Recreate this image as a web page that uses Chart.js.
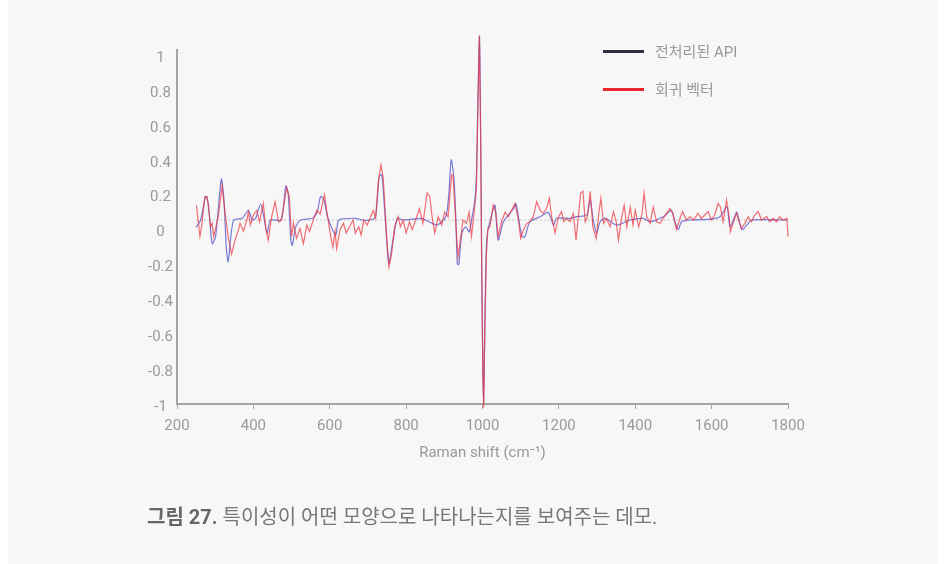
<!DOCTYPE html>
<html>
<head>
<meta charset="utf-8">
<script src="https://cdn.jsdelivr.net/npm/chart.js@4.4.1/dist/chart.umd.min.js"></script>
<style>
    body { margin: 0; background: #fff; width: 946px; height: 564px; overflow: hidden; }
    .panel { position: absolute; left: 8px; top: 0; width: 930px; height: 564px; background: #f7f7f7; }
    #chart { position: absolute; left: 0; top: 0; }
    .legend { position: absolute; left: 603px; top: 40px; font: 15px Roboto, 'Noto Sans CJK KR', sans-serif; color: #999; }
    .legend div { height: 38px; display: flex; align-items: flex-start; }
    .legend span.swatch { display: inline-block; width: 41px; height: 3px; margin-top: 10px; margin-right: 11px; }
    .caption { position: absolute; left: 147px; top: 505px; font: 20px/24px Roboto, 'Noto Sans CJK KR', sans-serif; color: #777; }
    .caption b { color: #666; }
</style>
</head>
<body>
<div class="panel"></div>
<canvas id="chart" width="946" height="564"></canvas>
<div class="legend">
    <div><span class="swatch" style="background:#2d3142"></span>전처리된 API</div>
    <div><span class="swatch" style="background:#e8262b"></span>회귀 벡터</div>
</div>
<div class="caption"><b>그림 27.</b> 특이성이 어떤 모양으로 나타나는지를 보여주는 데모.</div>

<script>
// tick labels
const xTicks = [200, 400, 600, 800, 1000, 1200, 1400, 1600, 1800];
const yTicks = [-1, -0.8, -0.6, -0.4, -0.2, 0, 0.2, 0.4, 0.6, 0.8, 1];

// 전처리된 API (smooth, blue line)
const apiX = [250, 262, 275, 282, 292, 301, 316, 323, 329, 334, 341, 349, 371, 387, 397, 406, 419, 428, 436, 445,
    472, 485, 491, 498, 502, 511, 524, 554, 567, 576, 585, 594, 607, 616, 624, 668, 685, 707, 720, 729,
    736, 742, 751, 755, 764, 777, 790, 842, 851, 869, 882, 904, 912, 918, 925, 930, 934, 938, 946, 956,
    965, 973, 980, 984, 988, 992, 995, 998, 1001, 1003, 1006, 1010, 1014, 1020, 1028, 1033, 1041, 1055, 1081, 1088,
    1103, 1111, 1124, 1151, 1172, 1186, 1194, 1229, 1247, 1273, 1282, 1290, 1299, 1308, 1321, 1351, 1386, 1421, 1439, 1473,
    1495, 1504, 1513, 1521, 1543, 1596, 1622, 1640, 1648, 1657, 1666, 1679, 1692, 1705, 1800];
const apiY = [0.013, 0.055, 0.19, 0.15, -0.08, -0.04, 0.29, 0.17, -0.10, -0.185, -0.04, 0.055, 0.065, 0.11, 0.055, 0.065, 0.147, 0.065, -0.02, 0.055,
    0.055, 0.25, 0.21, -0.06, -0.09, 0.016, 0.055, 0.065, 0.10, 0.19, 0.17, 0.074, 0.0, -0.03, 0.055, 0.065, 0.055, 0.055, 0.074, 0.30,
    0.315, 0.17, -0.12, -0.195, -0.08, 0.065, 0.055, 0.065, 0.055, 0.036, 0.026, 0.074, 0.21, 0.40, 0.30, 0.074, -0.195, -0.20, -0.02, 0.016,
    -0.013, 0.074, 0.17, 0.30, 0.75, 1.11, 0.6, -0.2, -0.8, -1.0, -0.55, -0.1, 0.0, 0.05, 0.12, 0.14, -0.06, 0.045, 0.12, 0.147,
    -0.04, -0.04, 0.045, 0.074, 0.10, 0.026, 0.065, 0.064, 0.074, 0.084, 0.17, 0.055, -0.02, 0.045, 0.064, 0.026, 0.055, 0.064, 0.045, 0.074,
    0.11, 0.045, 0.0, 0.045, 0.055, 0.06, 0.074, 0.13, 0.016, 0.055, 0.10, 0.0, 0.026, 0.055, 0.055];

// 회귀 벡터 (noisy, red line)
const regX = [251, 260, 265, 273, 279, 288, 292, 296, 308, 318, 325, 334, 343, 352, 361, 365, 374, 383, 387, 392,
    400, 409, 416, 426, 433, 439, 448, 457, 466, 474, 487, 494, 500, 505, 513, 522, 531, 540, 547, 557,
    566, 575, 586, 592, 601, 608, 614, 618, 627, 636, 643, 652, 661, 667, 676, 682, 689, 698, 707, 714,
    720, 727, 734, 740, 749, 755, 762, 770, 779, 785, 792, 800, 809, 816, 826, 835, 844, 855, 862, 869,
    875, 884, 893, 901, 910, 919, 923, 930, 936, 942, 949, 958, 965, 971, 977, 984, 988, 992, 995, 998,
    1001, 1003, 1006, 1010, 1014, 1020, 1028, 1035, 1041, 1050, 1059, 1068, 1085, 1094, 1100, 1107, 1116, 1124, 1133, 1142,
    1151, 1159, 1168, 1175, 1181, 1190, 1199, 1207, 1213, 1220, 1229, 1238, 1245, 1251, 1257, 1263, 1269, 1275, 1282, 1289,
    1298, 1304, 1310, 1317, 1325, 1334, 1343, 1350, 1356, 1365, 1371, 1378, 1387, 1394, 1400, 1409, 1418, 1423, 1430, 1439,
    1447, 1456, 1465, 1473, 1482, 1491, 1498, 1508, 1517, 1524, 1534, 1543, 1553, 1564, 1573, 1582, 1591, 1599, 1608, 1617,
    1623, 1630, 1639, 1646, 1649, 1656, 1665, 1672, 1678, 1687, 1696, 1704, 1713, 1722, 1731, 1744, 1752, 1761, 1770, 1778,
    1787, 1797, 1800];
const regY = [0.14, -0.04, 0.026, 0.19, 0.19, 0.016, 0.036, -0.04, 0.074, 0.25, 0.11, -0.04, -0.14, -0.06, 0.0, 0.036, -0.01, 0.055, 0.10, 0.026,
    0.084, 0.11, 0.045, 0.15, 0.0, -0.06, 0.074, 0.16, 0.045, 0.055, 0.24, 0.19, -0.04, 0.036, -0.05, 0.007, -0.08, 0.026, -0.01, 0.055,
    0.11, 0.09, 0.20, 0.11, -0.02, -0.10, -0.01, -0.11, 0.0, 0.036, -0.02, 0.016, 0.055, -0.02, 0.016, -0.03, 0.055, 0.026, 0.074, 0.11,
    0.064, 0.27, 0.37, 0.30, -0.04, -0.215, -0.14, 0.016, 0.074, 0.016, 0.055, -0.02, 0.045, 0.0, 0.064, 0.12, 0.036, 0.21, 0.19, 0.055,
    -0.02, 0.074, 0.026, 0.10, 0.074, 0.315, 0.305, 0.036, -0.155, -0.06, 0.055, 0.036, 0.10, -0.04, 0.074, 0.23, 0.7, 1.11, 0.55, -0.25,
    -0.85, -1.02, -0.6, -0.15, 0.0, 0.02, 0.14, 0.093, -0.04, 0.045, 0.10, 0.074, 0.15, 0.055, -0.05, -0.003, 0.036, 0.045, 0.074, 0.16,
    0.112, 0.093, 0.122, 0.18, 0.074, -0.02, 0.074, 0.103, 0.045, 0.064, 0.045, 0.093, -0.06, 0.074, 0.21, 0.22, 0.045, 0.074, 0.22, 0.016,
    -0.05, 0.084, 0.18, 0.036, 0.064, 0.016, 0.103, 0.045, -0.06, 0.074, 0.14, 0.016, 0.13, 0.026, 0.112, 0.016, 0.093, 0.21, 0.074, 0.036,
    0.13, 0.045, 0.036, 0.064, 0.093, 0.12, 0.093, 0.0, 0.064, 0.103, 0.055, 0.074, 0.055, 0.093, 0.064, 0.084, 0.103, 0.055, 0.084, 0.15,
    0.131, 0.045, 0.17, 0.074, -0.013, 0.036, 0.093, 0.045, 0.007, 0.036, 0.074, 0.045, 0.084, 0.103, 0.055, 0.074, 0.045, 0.064, 0.045, 0.074,
    0.055, 0.064, -0.04];

// dotted reference line
const baseX = [250, 1800];
const baseY = [0.055, 0.055];

function toPoints(xs, ys) {
    const pts = [];
    for (let i = 0; i < xs.length; i++) {
        pts.push({ x: xs[i], y: ys[i] });
    }
    return pts;
}

const axisColor = '#a3a3a3';
const tickFont = { family: 'Roboto', size: 15 };

new Chart(document.getElementById('chart'), {
    type: 'line',
    data: {
        datasets: [{
            label: '회귀 벡터',
            data: toPoints(regX, regY),
            borderColor: 'rgba(238, 50, 60, 0.7)',
            borderWidth: 1.2,
            pointRadius: 0,
            tension: 0,
            clip: false,
            order: 0
        }, {
            label: '전처리된 API',
            data: toPoints(apiX, apiY),
            borderColor: 'rgba(80, 80, 200, 0.75)',
            borderWidth: 1.2,
            pointRadius: 0,
            tension: 0.25,
            clip: false,
            order: 1
        }, {
            label: 'base',
            data: toPoints(baseX, baseY),
            borderColor: '#c4c4c4',
            borderWidth: 1,
            borderDash: [2, 2],
            pointRadius: 0,
            order: 2
        }]
    },
    options: {
        responsive: false,
        animation: false,
        layout: { padding: { left: 127, top: 50, right: 158, bottom: 98 } },
        plugins: { legend: { display: false }, tooltip: { enabled: false } },
        scales: {
            x: {
                type: 'linear',
                min: 200,
                max: 1800,
                afterBuildTicks: (s) => { s.ticks = xTicks.map(v => ({ value: v })); },
                afterFit: (s) => { s.height = 62; },
                grid: { display: true, drawOnChartArea: false, drawTicks: true, tickLength: 5, color: axisColor, lineWidth: 1 },
                border: { display: true, color: axisColor, width: 2 },
                ticks: { color: '#999', font: tickFont, padding: 8, maxRotation: 0, callback: (v) => String(v) },
                title: { display: true, text: 'Raman shift (cm⁻¹)', color: '#999', font: tickFont, padding: { top: 6 } }
            },
            y: {
                min: -1,
                max: 1.03,
                afterBuildTicks: (s) => { s.ticks = yTicks.map(v => ({ value: v })); },
                afterFit: (s) => { s.width = 50; },
                grid: { display: false, drawTicks: false },
                border: { display: true, color: axisColor, width: 2 },
                ticks: {
                    color: '#999',
                    font: tickFont,
                    padding: 4,
                    labelOffset: 3,
                    crossAlign: 'center',
                    callback: (v) => String(Math.round(v * 10) / 10)
                }
            }
        }
    }
});
</script>
</body>
</html>
